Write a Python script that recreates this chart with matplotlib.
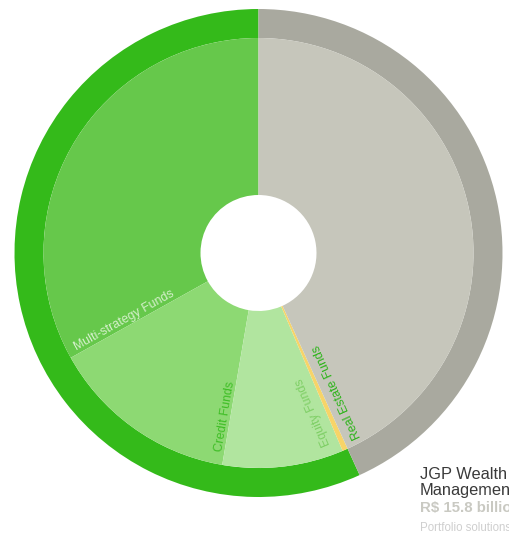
import numpy as np
import matplotlib
matplotlib.use("Agg")
import matplotlib.pyplot as plt

# Portfolio split (% of total)
fund_labels = ["Multi-strategy Funds", "Credit Funds", "Equity Funds", "Real Estate Funds", ""]
fund_values = [33.1, 14.2, 9.1, 0.4, 43.2]
fund_colors = ["#66c84b", "#8dd973", "#b1e59f", "#f7d468", "#c6c6bb"]
label_colors = ["#d5f0cb", "#3fbe26", "#7fcf66", "#2fb41c", None]

outer_values = [56.8, 43.2]
outer_colors = ["#34ba1a", "#a9a99f"]

W, H = 509, 533
cx, cy = 258.5, H - 253
R_out = 244
ring = 29
R_hole = 58

fig = plt.figure(figsize=(W / 100, H / 100), dpi=100)
ax = fig.add_axes([0, 0, 1, 1])

ax.pie(outer_values, colors=outer_colors, radius=R_out, center=(cx, cy),
       startangle=90, counterclock=True,
       wedgeprops=dict(width=ring, linewidth=0))
R_in = R_out - ring
ax.pie(fund_values, colors=fund_colors, radius=R_in, center=(cx, cy),
       startangle=90, counterclock=True,
       wedgeprops=dict(width=R_in - R_hole, linewidth=0))
ax.set_xlim(0, W)
ax.set_ylim(0, H)
ax.set_aspect("equal")
ax.axis("off")

# labels sit along the end edge of each wedge
ends = 90 + np.cumsum(fund_values) * 3.6
offsets = [(-2.5, 150), (-2.0, 167), (-4.0, 168), (5.0, 159)]
for i, (da, r) in enumerate(offsets):
    a = ends[i] + da
    x = cx + r * np.cos(np.radians(a))
    y = cy + r * np.sin(np.radians(a))
    rot = ends[i] - 180
    ax.text(x, y, fund_labels[i], rotation=rot, rotation_mode="anchor",
            ha="center", va="center", fontsize=8.9, color=label_colors[i],
            family="Liberation Sans")

# caption block at the bottom right
ax.text(420, H - 479, "JGP Wealth", fontsize=11.8, color="#3a3a3a",
        family="Liberation Sans")
ax.text(420, H - 495, "Management", fontsize=11.8, color="#3a3a3a",
        family="Liberation Sans")
ax.text(420, H - 512, "R$ 15.8 billion", fontsize=10.8, color="#c9c9c2",
        fontweight="bold", family="Liberation Sans")
ax.text(420, H - 531, "Portfolio solutions", fontsize=8.3, color="#cfcfcf",
        family="Liberation Sans")

fig.savefig("out.png", dpi=100)
